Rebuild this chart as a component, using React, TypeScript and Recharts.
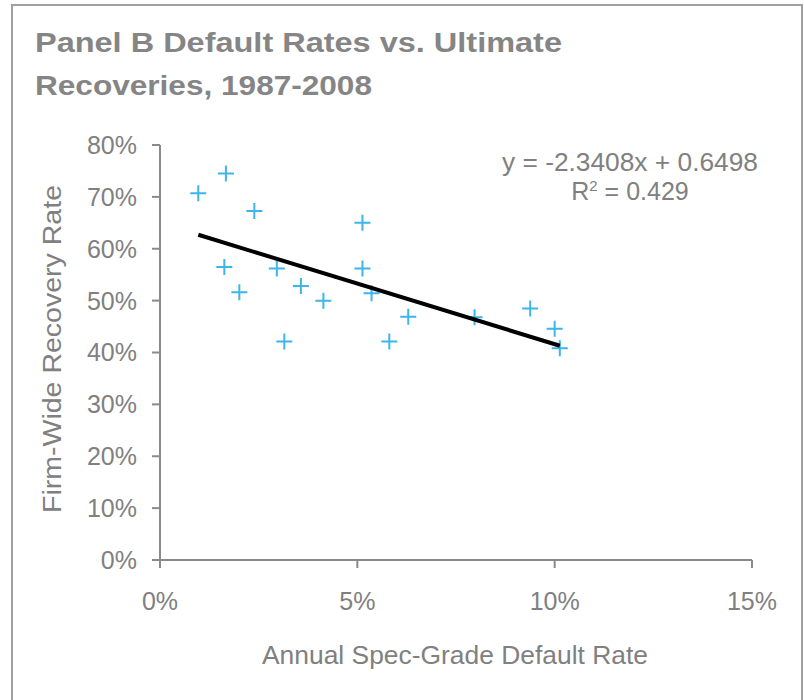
import React from 'react';
import { ScatterChart, Scatter, XAxis, YAxis } from 'recharts';

const defaultRate = [0.97, 1.67, 2.39, 1.63, 2.01, 2.96, 3.15, 3.57, 4.14, 5.13, 5.13, 5.36, 5.81, 6.29, 7.97, 9.38, 10.0, 10.13];
const recoveryRate = [70.7, 74.5, 67.3, 56.5, 51.6, 56.2, 42.1, 52.8, 50.0, 65.0, 56.2, 51.4, 42.1, 46.9, 46.8, 48.5, 44.6, 40.8];
const trendX = [0.97, 10.13];
const trendY = [62.7, 41.3];
const xTicks = [0, 5, 10, 15];
const yTicks = [0, 10, 20, 30, 40, 50, 60, 70, 80];

const points = defaultRate.map((x, i) => ({ x, y: recoveryRate[i] }));
const trend = trendX.map((x, i) => ({ x, y: trendY[i] }));

const FONT = '"Liberation Sans", Arial, sans-serif';
const GRAY = '#808080';
const AXIS = '#8a8a8a';

const Cross = (props: any) => {
  const { cx, cy } = props;
  if (cx == null || cy == null) return <g />;
  return (
    <path
      d={`M${cx - 8},${cy} H${cx + 8} M${cx},${cy - 8} V${cy + 8}`}
      stroke="#3db5ea"
      strokeWidth={2}
      fill="none"
    />
  );
};

const NoShape = () => <g />;

export default function App() {
  return (
    <div style={{ position: 'absolute', left: 0, top: 0, width: 804, height: 700, background: '#fff' }}>
      <ScatterChart width={804} height={700} margin={{ top: 145, right: 52, left: 0, bottom: 0 }}>
        <XAxis
          type="number"
          dataKey="x"
          domain={[0, 15]}
          ticks={xTicks}
          interval={0}
          tickFormatter={(v: number) => `${v}%`}
          height={140}
          tickSize={8}
          tickMargin={24}
          axisLine={{ stroke: AXIS, strokeWidth: 2 }}
          tickLine={{ stroke: AXIS, strokeWidth: 2 }}
          tick={{ fill: GRAY, fontSize: 25, fontFamily: FONT }}
        />
        <YAxis
          type="number"
          dataKey="y"
          domain={[0, 80]}
          ticks={yTicks}
          interval={0}
          tickFormatter={(v: number) => `${v}%`}
          width={160}
          tickSize={8}
          tickMargin={15}
          axisLine={{ stroke: AXIS, strokeWidth: 2 }}
          tickLine={{ stroke: AXIS, strokeWidth: 2 }}
          tick={{ fill: GRAY, fontSize: 25, fontFamily: FONT }}
        />
        <Scatter data={points} shape={Cross} isAnimationActive={false} />
        <Scatter
          data={trend}
          shape={NoShape}
          line={{ stroke: '#000', strokeWidth: 4 }}
          lineType="joint"
          isAnimationActive={false}
        />
      </ScatterChart>
      <svg
        width={804}
        height={700}
        style={{ position: 'absolute', left: 0, top: 0, pointerEvents: 'none' }}
      >
        <rect x={12} y={5} width={790} height={700} fill="none" stroke="#a0a0a0" strokeWidth={2} />
        <text x={35} y={52} fill="#858585" fontSize={28} fontWeight="bold" fontFamily={FONT} textLength={527} lengthAdjust="spacingAndGlyphs">
          Panel B Default Rates vs. Ultimate
        </text>
        <text x={35} y={95} fill="#858585" fontSize={28} fontWeight="bold" fontFamily={FONT} textLength={337} lengthAdjust="spacingAndGlyphs">
          Recoveries, 1987-2008
        </text>
        <text x={455} y={664} fill={GRAY} fontSize={25} fontFamily={FONT} textAnchor="middle" textLength={386} lengthAdjust="spacingAndGlyphs">
          Annual Spec-Grade Default Rate
        </text>
        <text
          x={0}
          y={0}
          transform="translate(61,349) rotate(-90)"
          fill={GRAY}
          fontSize={25}
          fontFamily={FONT}
          textAnchor="middle"
          textLength={328}
          lengthAdjust="spacingAndGlyphs"
        >
          Firm-Wide Recovery Rate
        </text>
        <text x={630} y={171} fill={GRAY} fontSize={25} fontFamily={FONT} textAnchor="middle" textLength={256} lengthAdjust="spacingAndGlyphs">
          y = -2.3408x + 0.6498
        </text>
        <text x={630} y={200} fill={GRAY} fontSize={25} fontFamily={FONT} textAnchor="middle">
          R<tspan fontSize={15} dy={-9}>2</tspan><tspan dy={9}> = 0.429</tspan>
        </text>
      </svg>
    </div>
  );
}
